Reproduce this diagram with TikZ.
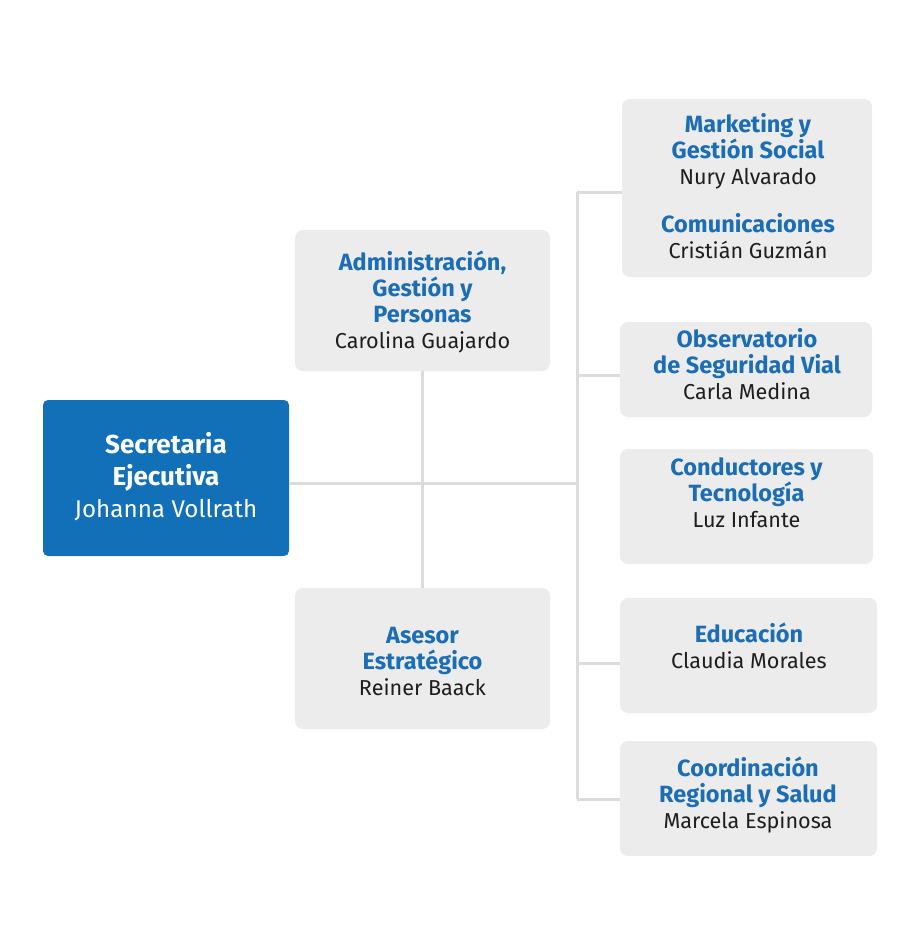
\documentclass[tikz,border=0pt]{standalone}
\usepackage{fontspec}
\setmainfont{Fira Sans}
\definecolor{boxblue}{HTML}{1170B8}
\definecolor{txtblue}{HTML}{1B6DB5}
\definecolor{boxgray}{HTML}{ECECEC}
\definecolor{linegray}{HTML}{DCDCDC}
\definecolor{txtdark}{HTML}{1E1E1E}
\newcommand{\ttlb}[1]{{\color{txtblue}\fontsize{23.5}{26}\selectfont\bfseries #1}}
\newcommand{\ttlw}[1]{{\fontsize{26}{32}\selectfont\bfseries #1}}
\begin{document}
\begin{tikzpicture}[x=1pt,y=1pt,
  graybox/.style={fill=boxgray, draw=none, rounded corners=8pt, inner sep=0pt},
  bluebox/.style={fill=boxblue, draw=none, rounded corners=5pt, inner sep=0pt},
  conn/.style={draw=linegray, line width=3pt},
  lbl/.style={align=center, inner sep=0pt, text=txtdark, font=\fontsize{21.6}{26}\selectfont}
]
\useasboundingbox (0,0) rectangle (916,-948);
% spine coordinates
\coordinate (sp1) at (577,-192);
\coordinate (sp2) at (577,-375);
\coordinate (sp3) at (577,-483);
\coordinate (sp4) at (577,-663);
\coordinate (sp5) at (577,-799);
% boxes
\node[bluebox, minimum width=246pt, minimum height=156pt] (sec) at (166,-478) {};
\node[graybox, minimum width=255pt, minimum height=141pt] (adm) at (422.5,-300.5) {};
\node[graybox, minimum width=255pt, minimum height=141pt] (ase) at (422.5,-658.5) {};
\node[graybox, minimum width=250pt, minimum height=178pt] (mkt) at (747,-188) {};
\node[graybox, minimum width=252pt, minimum height=95pt] (obs) at (746,-369.5) {};
\node[graybox, minimum width=253pt, minimum height=115pt] (con) at (746.5,-506.5) {};
\node[graybox, minimum width=257pt, minimum height=115pt] (edu) at (748.5,-655.5) {};
\node[graybox, minimum width=257pt, minimum height=115pt] (coo) at (748.5,-798.5) {};
% connectors
\draw[conn] (sp3 -| sec.east) -- (sp3);
\draw[conn] (adm.south) -- (ase.north);
\draw[conn] (sp1) -- (sp5);
\draw[conn] (sp1) -- (sp1 -| mkt.west);
\draw[conn] (sp2) -- (sp2 -| obs.west);
\draw[conn] (sp4) -- (sp4 -| edu.west);
\draw[conn] (sp5) -- (sp5 -| coo.west);
% texts
\node[lbl, text=white, font=\fontsize{24.2}{32}\selectfont] (tsec) at (166,-477)
  {\ttlw{Secretaria}\\\ttlw{Ejecutiva}\\Johanna Vollrath};
\node[lbl] (tadm) at (422.5,-302)
  {\ttlb{Administración,}\\\ttlb{Gestión y}\\\ttlb{Personas}\\Carolina Guajardo};
\node[lbl] (tase) at (422.5,-661)
  {\ttlb{Asesor}\\\ttlb{Estratégico}\\Reiner Baack};
\node[lbl] (tmkt) at (748,-186)
  {\ttlb{Marketing y}\\\ttlb{Gestión Social}\\Nury Alvarado\\[22pt]\ttlb{Comunicaciones}\\Cristián Guzmán};
\node[lbl] (tobs) at (747,-364.5)
  {\ttlb{Observatorio}\\\ttlb{de Seguridad Vial}\\Carla Medina};
\node[lbl] (tcon) at (746.5,-492.5)
  {\ttlb{Conductores y}\\\ttlb{Tecnología}\\Luz Infante};
\node[lbl] (tedu) at (749,-646)
  {\ttlb{Educación}\\Claudia Morales};
\node[lbl] (tcoo) at (748,-794.5)
  {\ttlb{Coordinación}\\\ttlb{Regional y Salud}\\Marcela Espinosa};
\end{tikzpicture}
\end{document}
